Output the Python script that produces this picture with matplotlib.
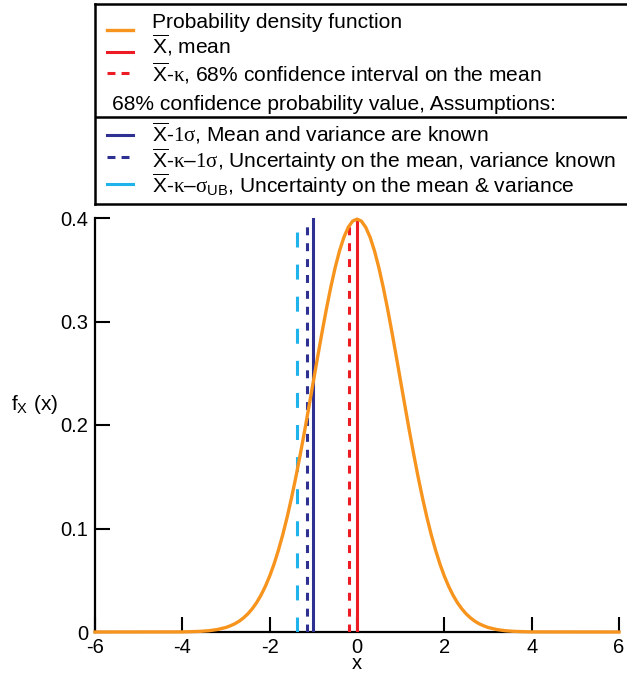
import matplotlib
matplotlib.use('Agg')
import matplotlib.pyplot as plt

plt.rcParams['font.family'] = ['Liberation Sans', 'DejaVu Sans']
plt.rcParams['axes.unicode_minus'] = False
plt.rcParams['mathtext.fontset'] = 'custom'
plt.rcParams['mathtext.rm'] = 'Liberation Serif'
plt.rcParams['mathtext.sf'] = 'Liberation Sans'
plt.rcParams['mathtext.it'] = 'Liberation Sans:italic'

# density curve (0.1 steps in the body, flat tails beyond |x| = 4)
x_vals = [-6.0, -4.0, -3.8, -3.6, -3.4, -3.2,
          -3.0, -2.9, -2.8, -2.7, -2.6, -2.5, -2.4, -2.3, -2.2, -2.1,
          -2.0, -1.9, -1.8, -1.7, -1.6, -1.5, -1.4, -1.3, -1.2, -1.1,
          -1.0, -0.9, -0.8, -0.7, -0.6, -0.5, -0.4, -0.3, -0.2, -0.1,
          0.0,
          0.1, 0.2, 0.3, 0.4, 0.5, 0.6, 0.7, 0.8, 0.9, 1.0,
          1.1, 1.2, 1.3, 1.4, 1.5, 1.6, 1.7, 1.8, 1.9, 2.0,
          2.1, 2.2, 2.3, 2.4, 2.5, 2.6, 2.7, 2.8, 2.9, 3.0,
          3.2, 3.4, 3.6, 3.8, 4.0, 6.0]
fx_vals = [0.0, 0.0001, 0.0003, 0.0006, 0.0012, 0.0024,
           0.0044, 0.0060, 0.0079, 0.0104, 0.0136, 0.0175, 0.0224, 0.0283, 0.0355, 0.0440,
           0.0540, 0.0656, 0.0790, 0.0940, 0.1109, 0.1295, 0.1497, 0.1714, 0.1942, 0.2179,
           0.2420, 0.2661, 0.2897, 0.3123, 0.3332, 0.3521, 0.3683, 0.3814, 0.3910, 0.3970,
           0.3989,
           0.3970, 0.3910, 0.3814, 0.3683, 0.3521, 0.3332, 0.3123, 0.2897, 0.2661, 0.2420,
           0.2179, 0.1942, 0.1714, 0.1497, 0.1295, 0.1109, 0.0940, 0.0790, 0.0656, 0.0540,
           0.0440, 0.0355, 0.0283, 0.0224, 0.0175, 0.0136, 0.0104, 0.0079, 0.0060, 0.0044,
           0.0024, 0.0012, 0.0006, 0.0003, 0.0001, 0.0]

# vertical markers: mean, mean-kappa, mean-1sigma, mean-kappa-1sigma, mean-kappa-sigma_UB
mark_x = [0.0, -0.18, -1.0, -1.15, -1.38]
mark_top = [0.399, 0.396, 0.4, 0.399, 0.39]

orange = '#F7941E'
red = '#ED1C24'
navy = '#2E3192'
cyan = '#1FB3EC'

mark_colors = [red, red, navy, navy, cyan]
mark_styles = ['-', (0, (2.6, 2.6)), '-', (0, (2.6, 2.6)), (0, (4.9, 5.6))]

labels_top = [
    'Probability density function',
    r'$\overline{\mathsf{X}}$, mean',
    r'$\overline{\mathsf{X}}$-$\mathrm{\kappa}$, 68% confidence interval on the mean',
]
labels_bottom = [
    r'$\overline{\mathsf{X}}$-$\mathrm{1\sigma}$, Mean and variance are known',
    r'$\overline{\mathsf{X}}$-$\mathrm{\kappa}$–$\mathrm{1\sigma}$, Uncertainty on the mean, variance known',
    r'$\overline{\mathsf{X}}$-$\mathrm{\kappa}$–$\mathrm{\sigma}_{\mathsf{UB}}$, Uncertainty on the mean & variance',
]

W, H = 627, 674
fig = plt.figure(figsize=(W / 100, H / 100), dpi=100)
ax = fig.add_axes([95 / W, 1 - 632 / H, (619 - 95) / W, (632 - 218) / H])

curve, = ax.plot(x_vals, fx_vals, color=orange, lw=2.4, zorder=4, clip_on=False,
                 solid_joinstyle='round')
lines = []
for xm, top, c, ls in zip(mark_x, mark_top, mark_colors, mark_styles):
    ln, = ax.plot([xm, xm], [0, top], color=c, lw=2.2, linestyle=ls, zorder=3)
    lines.append(ln)

ax.set_xlim(-6, 6)
ax.set_ylim(0, 0.4)
ax.set_xticks([-6, -4, -2, 0, 2, 4, 6])
ax.set_yticks([0, 0.1, 0.2, 0.3, 0.4])
ax.set_yticklabels(['0', '0.1', '0.2', '0.3', '0.4'])
ax.tick_params(direction='in', length=11, width=1.5, labelsize=14.5)
ax.tick_params(axis='y', pad=5)
ax.tick_params(axis='x', pad=4.5)
for side in ['top', 'right']:
    ax.spines[side].set_visible(False)
for side in ['left', 'bottom']:
    ax.spines[side].set_linewidth(1.6)

ax.set_xlabel('x', fontsize=14.5, labelpad=-2.5)
ax.text(-0.16, 0.536, r'f$_{\mathsf{X}}$ (x)', transform=ax.transAxes, fontsize=15,
        ha='left', va='baseline')

# legend box above the plot, in pixel-like coordinates
lax = fig.add_axes([95 / W, 1 - 204 / H, 560 / W, (204 - 4) / H])
lax.set_xticks([])
lax.set_yticks([])
for s in lax.spines.values():
    s.set_linewidth(1.8)
lax.set_xlim(95, 655)
lax.set_ylim(204, 4)
lax.axhline(117, color='black', lw=1.8)

handles = [curve] + lines
labels = labels_top + labels_bottom
handle_y = [30, 52, 73, 135, 157, 184]
text_base = [28, 54, 81, 142, 168, 193]
short_dash = (0, (2.6, 2.0))
handle_styles = ['-', '-', short_dash, '-', short_dash, '-']
for h, lab, hs, hy, ty in zip(handles, labels, handle_styles, handle_y, text_base):
    lax.plot([107, 133], [hy, hy], color=h.get_color(), lw=h.get_linewidth(), linestyle=hs)
    lax.text(152, ty, lab, fontsize=15.1, ha='left', va='baseline')
lax.text(112, 110, '68% confidence probability value, Assumptions:', fontsize=15.1,
         ha='left', va='baseline')

fig.savefig('out.png', dpi=100)
